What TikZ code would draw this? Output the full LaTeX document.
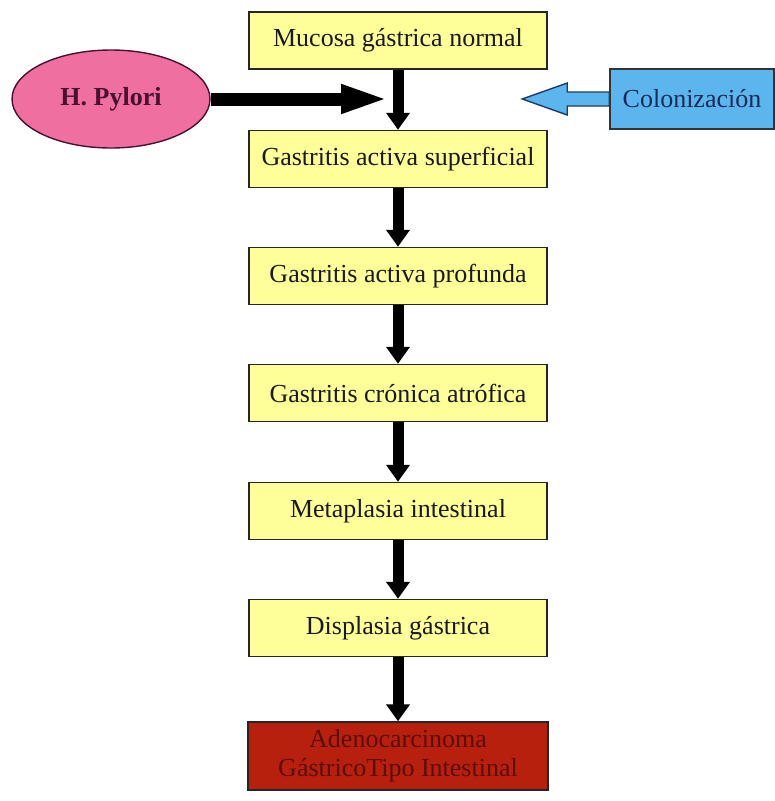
\documentclass[tikz,border=0pt]{standalone}
\usepackage{fontspec}
\setmainfont{Liberation Serif}
\usetikzlibrary{arrows.meta,shapes.geometric}
\definecolor{boxyellow}{HTML}{FFFF99}
\definecolor{pylpink}{HTML}{EE6FA0}
\definecolor{pyltext}{HTML}{4A1030}
\definecolor{colblue}{HTML}{5CB6EE}
\definecolor{colline}{HTML}{1E3A66}
\definecolor{coltext}{HTML}{1A2A5A}
\definecolor{adred}{HTML}{B8200E}
\definecolor{adtext}{HTML}{5A0E05}
\begin{document}
\begin{tikzpicture}[x=1pt,y=-1pt,
  stagebox/.style={draw=black!85, line width=1.5pt, fill=boxyellow,
    minimum width=298pt, minimum height=57pt, inner sep=0pt,
    font=\fontsize{26}{30}\selectfont, text=black!90},
  flow/.style={line width=11pt, -{Triangle[length=17pt,width=23pt]}},
]
\useasboundingbox (0,0) rectangle (775,801);
\fill[white] (0,0) rectangle (775,801);

\node[stagebox] (s1) at (398,40.5) {Mucosa gástrica normal};
\node[stagebox] (s2) at (398,159) {Gastritis activa superficial};
\node[stagebox] (s3) at (398,276) {Gastritis activa profunda};
\node[stagebox] (s4) at (398,393) {Gastritis crónica atrófica};
\node[stagebox] (s5) at (398,511) {Metaplasia intestinal};
\node[stagebox] (s6) at (398,628) {Displasia gástrica};
\node[stagebox, fill=adred, text=adtext, minimum width=300pt, minimum height=68pt,
  align=center, font=\fontsize{26}{29}\selectfont] (s7) at (398,756)
  {Adenocarcinoma\\GástricoTipo Intestinal};

\draw[flow] (s1.south) -- (s2.north);
\draw[flow] (s2.south) -- (s3.north);
\draw[flow] (s3.south) -- (s4.north);
\draw[flow] (s4.south) -- (s5.north);
\draw[flow] (s5.south) -- (s6.north);
\draw[flow] (s6.south) -- (s7.north);

\node[ellipse, draw=pyltext, line width=1.4pt, fill=pylpink, text=pyltext,
  minimum width=198pt, minimum height=98pt, inner sep=0pt,
  font=\fontsize{26}{30}\selectfont\bfseries] (hp) at (111,99) {H. Pylori};
\coordinate (hpend) at (389,99);
\draw[line width=13pt, -{Triangle[length=48pt,width=26pt]}] (hp.east) -- (hpend);

\node[draw=black!80, line width=1.5pt, fill=colblue, text=coltext,
  minimum width=164pt, minimum height=60pt, inner sep=0pt,
  font=\fontsize{26}{30}\selectfont] (col) at (692,99) {Colonización};
\draw[fill=colblue, draw=colline, line width=1.4pt, line join=miter]
  (col.west) ++(0,-7) -- ++(-42,0) -- ++(0,-9) -- ++(-45,16)
  -- ++(45,16) -- ++(0,-9) -- ++(42,0) -- cycle;
\end{tikzpicture}
\end{document}
